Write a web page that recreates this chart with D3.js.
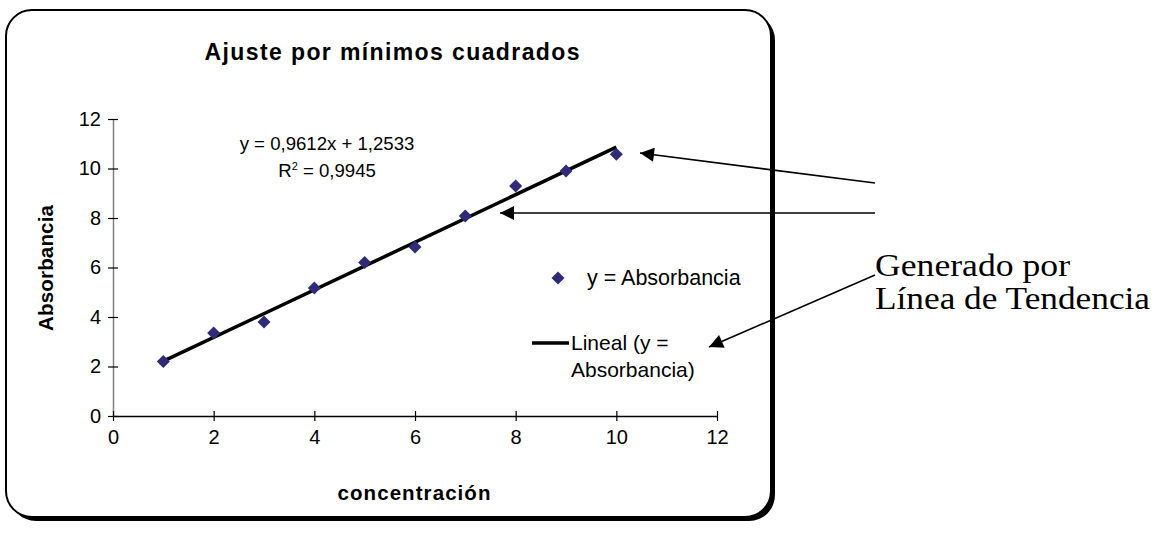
<!DOCTYPE html>
<html><head><meta charset="utf-8">
<script src="https://cdn.jsdelivr.net/npm/d3@7"></script>
<style>
html,body{margin:0;padding:0;background:#fff;}
svg{display:block;}
text{fill:#000;}
</style></head>
<body>
<svg id="chart" width="1156" height="533"></svg>
<script>
// ---- data ----
const concentracion = [1,2,3,4,5,6,7,8,9,10];
const absorbancia = [2.2,3.35,3.8,5.17,6.2,6.83,8.08,9.29,9.9,10.58];
const xTicks = [0,2,4,6,8,10,12];
const yTicks = [0,2,4,6,8,10,12];
const slope = 0.9612, intercept = 1.2533;
const titleText = "Ajuste por mínimos cuadrados";
const xTitle = "concentración";
const yTitle = "Absorbancia";
const eqText = "y = 0,9612x + 1,2533";
const r2Value = " = 0,9945";
const legendPoints = "y = Absorbancia";
const legendLine = ["Lineal (y =", "Absorbancia)"];
const noteLines = ["Generado por", "Línea de Tendencia"];

const SANS = "Arial, 'Liberation Sans', sans-serif";
const SERIF = "'Liberation Serif', 'Times New Roman', serif";

const svg = d3.select("#chart");
const x = d3.scaleLinear().domain([0,12]).range([113,717]);
const y = d3.scaleLinear().domain([0,12]).range([416,119]);

// frame with shadow
const fx=6, fy=10, fw=765, fh=507, fr=26;
svg.append("rect").attr("x",fx+4).attr("y",fy+4).attr("width",fw).attr("height",fh)
  .attr("rx",fr).attr("fill","#000");
svg.append("rect").attr("x",fx).attr("y",fy).attr("width",fw).attr("height",fh)
  .attr("rx",fr).attr("fill","#fff").attr("stroke","#000").attr("stroke-width",2);

// title
svg.append("text").attr("x",392).attr("y",60).attr("text-anchor","middle")
  .style("font-family",SANS).style("font-weight","bold").style("font-size","23px")
  .attr("textLength",375).attr("lengthAdjust","spacing").text(titleText);

// axes
const yAxis = d3.axisLeft(y).tickValues(yTicks).tickSize(0).tickPadding(12).tickFormat(d3.format("d"));
const gy = svg.append("g").attr("transform",`translate(${x(0)},0)`).call(yAxis);
gy.select(".domain").attr("stroke","#808080").attr("stroke-width",1.5);
gy.selectAll(".tick text").style("font-size","20px").style("font-family",SANS).attr("fill","#000");
gy.selectAll(".tick").append("line").attr("x1",-5).attr("x2",5).attr("stroke","#000").attr("stroke-width",1.2);

const xAxis = d3.axisBottom(x).tickValues(xTicks).tickSize(0).tickPadding(14).tickFormat(d3.format("d"));
const gx = svg.append("g").attr("transform",`translate(0,${y(0)})`).call(xAxis);
gx.select(".domain").attr("stroke","#000").attr("stroke-width",1.5);
gx.selectAll(".tick text").style("font-size","20px").style("font-family",SANS).attr("fill","#000");
gx.selectAll(".tick").append("line").attr("y1",-5).attr("y2",5).attr("stroke","#000").attr("stroke-width",1.2);

// axis titles
svg.append("text").attr("x",414).attr("y",500).attr("text-anchor","middle")
  .style("font-family",SANS).style("font-weight","bold").style("font-size","20.5px")
  .attr("textLength",153).attr("lengthAdjust","spacing").text(xTitle);
svg.append("text").attr("transform","translate(53,268) rotate(-90)").attr("text-anchor","middle")
  .style("font-family",SANS).style("font-weight","bold").style("font-size","20.5px")
  .attr("textLength",126).attr("lengthAdjust","spacing").text(yTitle);

// trend line
const line = d3.line().x(d=>x(d)).y(d=>y(slope*d+intercept));
svg.append("path").datum([concentracion[0], concentracion[concentracion.length-1]])
  .attr("d",line).attr("fill","none").attr("stroke","#000").attr("stroke-width",3.5);

// points
const diamond = d3.symbol().type(d3.symbolSquare).size(85);
svg.selectAll(".pt").data(concentracion).join("path").attr("class","pt")
  .attr("d",diamond)
  .attr("transform",(d,i)=>`translate(${x(d)},${y(absorbancia[i])}) rotate(45)`)
  .attr("fill","#2f2b78");

// equation labels
svg.append("text").attr("x",327).attr("y",150).attr("text-anchor","middle")
  .style("font-family",SANS).style("font-size","18.6px").text(eqText);
const r2 = svg.append("text").attr("x",327).attr("y",177).attr("text-anchor","middle")
  .style("font-family",SANS).style("font-size","18.6px");
r2.append("tspan").text("R");
r2.append("tspan").style("font-size","11px").attr("dy",-7).text("2");
r2.append("tspan").attr("dy",7).text(r2Value);

// legend
svg.append("path").attr("d",diamond).attr("transform","translate(558,278) rotate(45)").attr("fill","#2f2b78");
svg.append("text").attr("x",587).attr("y",285).style("font-family",SANS).style("font-size","21.5px").text(legendPoints);
svg.append("line").attr("x1",532).attr("x2",569).attr("y1",343).attr("y2",343)
  .attr("stroke","#000").attr("stroke-width",3.5);
svg.append("text").attr("x",571).attr("y",350).style("font-family",SANS).style("font-size","21px").text(legendLine[0]);
svg.append("text").attr("x",571).attr("y",377).style("font-family",SANS).style("font-size","21px").text(legendLine[1]);

// arrows
const defs = svg.append("defs");
defs.append("marker").attr("id","ah").attr("viewBox","0 0 10 10").attr("refX",10).attr("refY",5)
  .attr("markerUnits","userSpaceOnUse").attr("markerWidth",18).attr("markerHeight",14).attr("orient","auto")
  .append("path").attr("d","M0,0 L10,5 L0,10 Z").attr("fill","#000");
const arrows = [[875,183,640,153],[875,213,500,213],[875,275,709,347]];
svg.selectAll(".arr").data(arrows).join("line").attr("class","arr")
  .attr("x1",d=>d[0]).attr("y1",d=>d[1]).attr("x2",d=>d[2]).attr("y2",d=>d[3])
  .attr("stroke","#000").attr("stroke-width",1.6).attr("marker-end","url(#ah)");

// note text
svg.append("text").attr("x",875).attr("y",276).style("font-family",SERIF)
  .style("font-size","32px").attr("textLength",195).attr("lengthAdjust","spacingAndGlyphs").text(noteLines[0]);
svg.append("text").attr("x",875).attr("y",309).style("font-family",SERIF)
  .style("font-size","32px").attr("textLength",275).attr("lengthAdjust","spacingAndGlyphs").text(noteLines[1]);
</script>
</body></html>
